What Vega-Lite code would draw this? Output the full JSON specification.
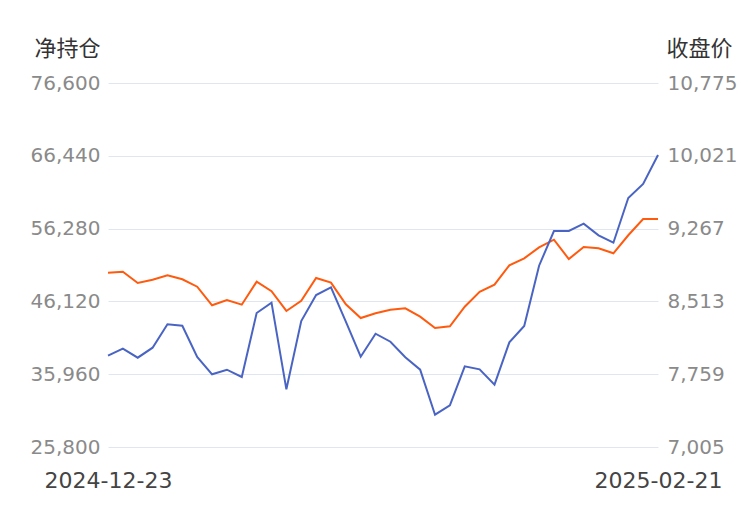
{
  "$schema": "https://vega.github.io/schema/vega-lite/v6.json",
  "width": 550,
  "height": 364,
  "autosize": {"type": "none"},
  "padding": {"left": 108, "top": 83, "right": 92, "bottom": 63},
  "background": "white",
  "config": {"view": {"stroke": null}, "font": "DejaVu Sans"},
  "data": {"values": [
    {"date": "2024-12-23", "net": 38542, "close": 8810},
    {"date": "2024-12-24", "net": 39519, "close": 8821},
    {"date": "2024-12-25", "net": 38263, "close": 8704},
    {"date": "2024-12-26", "net": 39658, "close": 8738},
    {"date": "2024-12-27", "net": 42924, "close": 8783},
    {"date": "2024-12-30", "net": 42729, "close": 8742},
    {"date": "2024-12-31", "net": 38360, "close": 8665},
    {"date": "2025-01-02", "net": 35946, "close": 8473},
    {"date": "2025-01-03", "net": 36588, "close": 8527},
    {"date": "2025-01-06", "net": 35569, "close": 8479},
    {"date": "2025-01-07", "net": 44501, "close": 8717},
    {"date": "2025-01-08", "net": 45939, "close": 8618},
    {"date": "2025-01-09", "net": 33853, "close": 8414},
    {"date": "2025-01-10", "net": 43385, "close": 8520},
    {"date": "2025-01-13", "net": 47013, "close": 8755},
    {"date": "2025-01-14", "net": 48088, "close": 8707},
    {"date": "2025-01-15", "net": 43287, "close": 8483},
    {"date": "2025-01-16", "net": 38402, "close": 8341},
    {"date": "2025-01-17", "net": 41612, "close": 8390},
    {"date": "2025-01-20", "net": 40496, "close": 8427},
    {"date": "2025-01-21", "net": 38319, "close": 8442},
    {"date": "2025-01-22", "net": 36588, "close": 8355},
    {"date": "2025-01-23", "net": 30308, "close": 8237},
    {"date": "2025-01-24", "net": 31620, "close": 8255},
    {"date": "2025-01-27", "net": 37063, "close": 8458},
    {"date": "2025-02-05", "net": 36644, "close": 8613},
    {"date": "2025-02-06", "net": 34495, "close": 8686},
    {"date": "2025-02-07", "net": 40412, "close": 8887},
    {"date": "2025-02-10", "net": 42687, "close": 8959},
    {"date": "2025-02-11", "net": 51102, "close": 9073},
    {"date": "2025-02-12", "net": 55945, "close": 9152},
    {"date": "2025-02-13", "net": 55945, "close": 8952},
    {"date": "2025-02-14", "net": 56964, "close": 9076},
    {"date": "2025-02-17", "net": 55345, "close": 9063},
    {"date": "2025-02-18", "net": 54312, "close": 9011},
    {"date": "2025-02-19", "net": 60550, "close": 9198},
    {"date": "2025-02-20", "net": 62504, "close": 9366},
    {"date": "2025-02-21", "net": 66552, "close": 9366}
  ]},
  "encoding": {
    "x": {
      "field": "date", "type": "ordinal", "sort": null,
      "scale": {"type": "point", "padding": 0},
      "axis": {
        "values": ["2024-12-23", "2025-02-21"],
        "labelAngle": 0, "domain": false, "ticks": false, "grid": false, "title": null,
        "labelFontSize": 22, "labelColor": "#444444", "labelPadding": 23,
        "labelBaseline": "top", "labelOverlap": false
      }
    }
  },
  "layer": [
    {
      "mark": {"type": "line", "color": "#ff5a0d", "strokeWidth": 2},
      "encoding": {
        "y": {
          "field": "close", "type": "quantitative",
          "scale": {"domain": [7005, 10775], "nice": false, "zero": false},
          "axis": {
            "orient": "right",
            "values": [7005, 7759, 8513, 9267, 10021, 10775],
            "format": ",d",
            "grid": false, "domain": false, "ticks": false,
            "labelFontSize": 20, "labelColor": "#8a8a8a", "labelPadding": 9,
            "title": "收盘价", "titleAngle": 0, "titleX": 41, "titleY": -35,
            "titleAlign": "center", "titleBaseline": "middle",
            "titleFontSize": 22, "titleFontWeight": "normal", "titleColor": "#333333",
            "titleFont": "Noto Sans CJK SC"
          }
        }
      }
    },
    {
      "mark": {"type": "line", "color": "#4a64c4", "strokeWidth": 2},
      "encoding": {
        "y": {
          "field": "net", "type": "quantitative",
          "scale": {"domain": [25800, 76600], "nice": false, "zero": false},
          "axis": {
            "orient": "left",
            "values": [25800, 35960, 46120, 56280, 66440, 76600],
            "format": ",d",
            "grid": true, "gridColor": "#e0e6f1", "gridWidth": 1,
            "domain": false, "ticks": false,
            "labelFontSize": 20, "labelColor": "#8a8a8a", "labelPadding": 8,
            "title": "净持仓", "titleAngle": 0, "titleX": -41, "titleY": -35,
            "titleAlign": "center", "titleBaseline": "middle",
            "titleFontSize": 22, "titleFontWeight": "normal", "titleColor": "#333333",
            "titleFont": "Noto Sans CJK SC"
          }
        }
      }
    }
  ],
  "resolve": {"scale": {"y": "independent"}}
}
